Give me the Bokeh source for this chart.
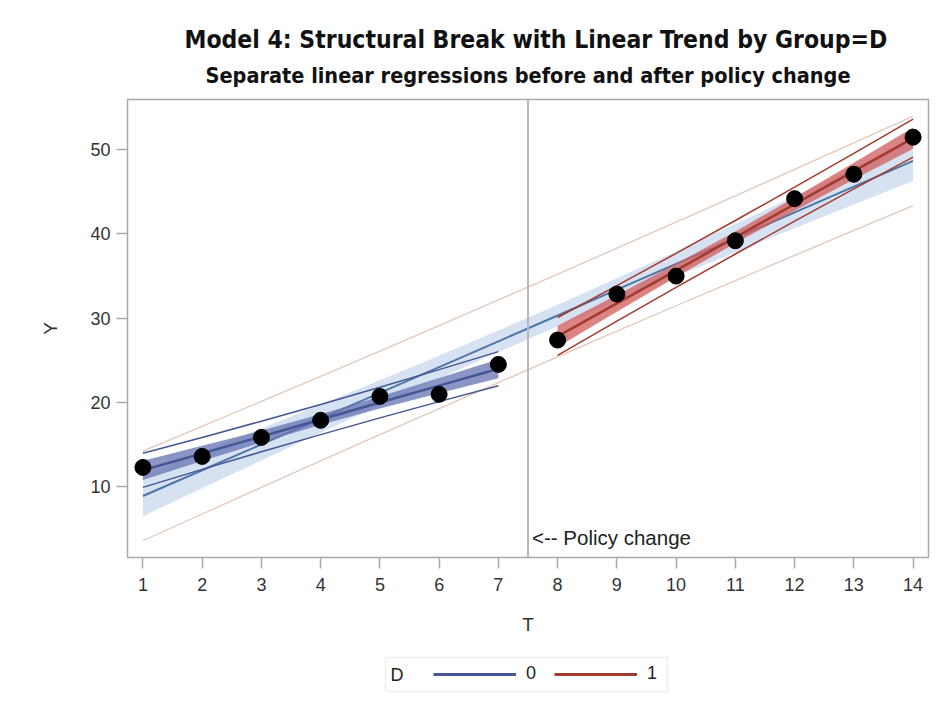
from bokeh.plotting import figure
from bokeh.layouts import column
from bokeh.models import (ColumnDataSource, Span, Label, Legend, LegendItem, FixedTicker, Title,
                          Range1d, BoxAnnotation)
from bokeh.embed import file_html
from bokeh.resources import INLINE

# ---- data ----
T = [1, 2, 3, 4, 5, 6, 7, 8, 9, 10, 11, 12, 13, 14]
Y = [12.26, 13.57, 15.83, 17.86, 20.70, 20.95, 24.50, 27.40, 32.86, 35.00, 39.20, 44.20, 47.10, 51.50]

# overall linear fit with confidence band and prediction limits
all_fit = [8.87, 11.93, 15.00, 18.06, 21.12, 24.19, 27.25, 30.31, 33.38, 36.44, 39.50, 42.57, 45.63, 48.69]
all_clm_lo = [6.47, 9.79, 13.10, 16.38, 19.63, 22.84, 25.97, 29.03, 32.03, 34.95, 37.82, 40.67, 43.49, 46.29]
all_clm_hi = [11.27, 14.07, 16.90, 19.74, 22.61, 25.54, 28.53, 31.59, 34.73, 37.93, 41.18, 44.47, 47.77, 51.09]
all_pi_lo = [3.55, 6.73, 9.89, 13.03, 16.15, 19.26, 22.34, 25.40, 28.45, 31.47, 34.47, 37.46, 40.43, 43.37]
all_pi_hi = [14.19, 17.13, 20.11, 23.09, 26.09, 29.12, 32.16, 35.22, 38.31, 41.41, 44.53, 47.68, 50.83, 54.01]

# group D=0 (before policy change)
T0 = [1, 2, 3, 4, 5, 6, 7]
fit0 = [11.92, 13.93, 15.94, 17.95, 19.97, 21.98, 23.99]
clm0_lo = [10.78, 13.04, 15.23, 17.32, 19.26, 21.09, 22.85]
clm0_hi = [13.06, 14.83, 16.65, 18.58, 20.68, 22.88, 25.13]
pi0_lo = [9.89, 12.03, 14.12, 16.16, 18.15, 20.08, 21.96]
pi0_hi = [13.95, 15.83, 17.76, 19.74, 21.79, 23.88, 26.02]

# group D=1 (after policy change)
T1 = [8, 9, 10, 11, 12, 13, 14]
fit1 = [27.83, 31.75, 35.68, 39.61, 43.54, 47.47, 51.39]
clm1_lo = [26.56, 30.76, 34.89, 38.91, 42.75, 46.47, 50.12]
clm1_hi = [29.10, 32.75, 36.47, 40.31, 44.33, 48.46, 52.66]
pi1_lo = [25.58, 29.64, 33.66, 37.62, 41.52, 45.36, 49.14]
pi1_hi = [30.08, 33.86, 37.70, 41.60, 45.56, 49.58, 53.64]

policy_break = 7.5
x_ticks = [1, 2, 3, 4, 5, 6, 7, 8, 9, 10, 11, 12, 13, 14]
y_ticks = [10, 20, 30, 40, 50]
group_labels = ["0", "1"]
group_var = "D"

FONT = "Liberation Sans"
NARROW = "'Liberation Sans Narrow', 'DejaVu Sans Condensed', 'Roboto Condensed', 'Liberation Sans', sans-serif"
BLUE = "#445694"
BLUE_FILL = "#6573b3"
RED = "#A23A2E"
RED_FILL = "#D05B5B"

p = figure(width=930, height=644, output_backend="svg", toolbar_location=None,
           x_range=Range1d(0.74, 14.26), y_range=Range1d(1.56, 55.98),
           min_border_left=127, min_border_right=2, min_border_top=99, min_border_bottom=87)
p.background_fill_color = "white"
p.border_fill_color = "white"
p.outline_line_color = "#a9a9a9"
p.outline_line_width = 1.5
p.xgrid.visible = False
p.ygrid.visible = False

# titles
p.add_layout(Title(text="Separate linear regressions before and after policy change",
                   align="center", text_font=NARROW, text_font_style="bold",
                   text_font_size="21.5px", text_color="#111111", standoff=23,
                   text_line_height=0.75), "above")
p.add_layout(Title(text="Model 4: Structural Break with Linear Trend by Group=D",
                   align="left", offset=57, text_font=NARROW, text_font_style="bold",
                   text_font_size="24.5px", text_color="#111111", standoff=-9,
                   text_line_height=1.0), "above")

# overall band, limits, fit
src_all = ColumnDataSource(dict(t=T, fit=all_fit, lo=all_clm_lo, hi=all_clm_hi, plo=all_pi_lo, phi=all_pi_hi))
p.varea(x="t", y1="lo", y2="hi", source=src_all, fill_color="#d6e2f1", fill_alpha=1.0)
p.line(x="t", y="plo", source=src_all, line_color="#e3c8ba", line_width=1.3)
p.line(x="t", y="phi", source=src_all, line_color="#e3c8ba", line_width=1.3)
p.line(x="t", y="fit", source=src_all, line_color="#4f75a6", line_width=2)

# group 0
src0 = ColumnDataSource(dict(t=T0, fit=fit0, lo=clm0_lo, hi=clm0_hi, plo=pi0_lo, phi=pi0_hi))
p.varea(x="t", y1="lo", y2="hi", source=src0, fill_color=BLUE_FILL, fill_alpha=0.75)
p.line(x="t", y="plo", source=src0, line_color=BLUE, line_width=1.5)
p.line(x="t", y="phi", source=src0, line_color=BLUE, line_width=1.5)
r0 = p.line(x="t", y="fit", source=src0, line_color=BLUE, line_width=2.5)

# group 1
src1 = ColumnDataSource(dict(t=T1, fit=fit1, lo=clm1_lo, hi=clm1_hi, plo=pi1_lo, phi=pi1_hi))
p.varea(x="t", y1="lo", y2="hi", source=src1, fill_color=RED_FILL, fill_alpha=0.75)
p.line(x="t", y="plo", source=src1, line_color=RED, line_width=1.5)
p.line(x="t", y="phi", source=src1, line_color=RED, line_width=1.5)
r1 = p.line(x="t", y="fit", source=src1, line_color=RED, line_width=2.5)

# points
p.scatter(x=T, y=Y, size=16, marker="circle", fill_color="black", line_color="black")

# policy change reference line
p.add_layout(Span(location=policy_break, dimension="height", line_color="#b8b8b8", line_width=2))
p.add_layout(Label(x=policy_break, y=3.9, x_offset=4, text="<-- Policy change",
                   text_font=FONT, text_font_size="20.5px", text_color="#222222",
                   text_baseline="middle", text_align="left"))

# axes
for ax in (p.xaxis[0], p.yaxis[0]):
    ax.axis_line_color = None
    ax.major_tick_line_color = "#a9a9a9"
    ax.major_tick_line_width = 1.5
    ax.major_tick_out = 11
    ax.major_tick_in = 0
    ax.minor_tick_line_color = None
    ax.major_label_text_font = FONT
    ax.major_label_text_font_size = "18px"
    ax.major_label_text_color = "#333333"
    ax.axis_label_text_font = FONT
    ax.axis_label_text_font_size = "19px"
    ax.axis_label_text_font_style = "normal"
    ax.axis_label_text_color = "#333333"
p.xaxis[0].major_label_standoff = 9
p.yaxis[0].major_label_standoff = 6
p.xaxis[0].ticker = FixedTicker(ticks=x_ticks)
p.yaxis[0].ticker = FixedTicker(ticks=y_ticks)
p.xaxis[0].axis_label = "T"
p.yaxis[0].axis_label = "Y"
p.xaxis[0].axis_label_standoff = 20
p.yaxis[0].axis_label_standoff = 26

# ---- legend strip below the chart ----
# its frame is aligned with the chart's frame (x 127..928 on the page); ranges give page pixels
lg = figure(width=930, height=52, output_backend="svg", toolbar_location=None,
            x_range=Range1d(127, 928), y_range=Range1d(696, 644),
            x_axis_type=None, y_axis_type=None,
            min_border_left=127, min_border_right=2, min_border_top=0, min_border_bottom=0)
lg.outline_line_color = None
lg.xgrid.visible = False
lg.ygrid.visible = False
lg.background_fill_color = "white"
lg.border_fill_color = "white"
# proxy renderers carrying the group line styles (their data lie outside this strip's ranges)
g0 = lg.line(x=T0, y=fit0, line_color=BLUE, line_width=3)
g1 = lg.line(x=T1, y=fit1, line_color=RED, line_width=3)
lg.add_layout(BoxAnnotation(left=385, right=667, top=657, bottom=691,
                            fill_color="white", fill_alpha=1.0,
                            line_color="#c8c8c8", line_width=1.5))
lg.add_layout(Label(x=390, y=674, text=group_var,
                    text_font=FONT, text_font_size="18px", text_color="#222222",
                    text_baseline="middle", text_align="left"))
legend = Legend(items=[LegendItem(label=group_labels[0], renderers=[g0]),
                       LegendItem(label=group_labels[1], renderers=[g1])],
                orientation="horizontal", location=(306, 12),
                glyph_width=83, glyph_height=20, label_standoff=10, spacing=8,
                label_text_font=FONT, label_text_font_size="18px", label_text_color="#222222",
                border_line_color=None, background_fill_alpha=0.0,
                padding=0, margin=0)
lg.add_layout(legend, "center")

page = column(p, lg, spacing=0)
open("out.html", "w").write(file_html(page, INLINE))
